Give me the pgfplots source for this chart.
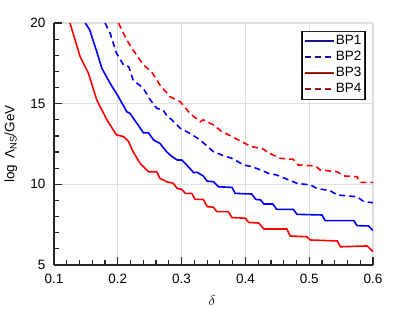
\documentclass[border=0pt]{standalone}
\usepackage{fontspec}
\setmainfont{Liberation Sans}
\usepackage{pgfplots}
\pgfplotsset{compat=1.18}
\begin{document}
\fontsize{13.5bp}{16bp}\selectfont
\begin{tikzpicture}
\useasboundingbox (-54bp,-44bp) rectangle (358bp,265bp);
\begin{axis}[
 scale only axis, width=319bp, height=242bp,
 xmin=0.1, xmax=0.6, ymin=5, ymax=20,
 xtick={0.1,0.2,0.3,0.4,0.5,0.6}, ytick={5,10,15,20},
 xticklabels={0.1,0.2,0.3,0.4,0.5,0.6}, yticklabels={5,10,15,20},
 minor x tick num=4, minor y tick num=4,
 axis x line*=bottom, axis y line*=left,
 axis line style={-, line width=1.5bp, black!85},
 tick align=inside,
 major tick length=8bp, minor tick length=5bp,
 every tick/.style={black!85, line width=1.2bp},
 grid=major, major grid style={gray!25, line width=1.2bp},
 tick label style={font=\fontsize{13.5bp}{16bp}\selectfont},
 xticklabel style={yshift=-4bp}, yticklabel style={xshift=-4bp},
 xlabel={$\delta$}, xlabel style={at={(axis description cs:0.495,-0.145)}, anchor=center},
 ylabel={log\hspace{0.45em}Λ\textsubscript{NS}/GeV},
 ylabel style={at={(axis description cs:-0.135,0.5)}, anchor=center, font=\fontsize{13.5bp}{16bp}\selectfont},
 legend style={at={(axis description cs:0.975,0.967)}, anchor=north east, fill=white, postaction={draw=black!85, line width=1.2bp}, inner sep=2bp, font=\fontsize{13.5bp}{16bp}\selectfont, nodes={inner sep=1.5bp, text height=10bp, text depth=3bp}, row sep=0bp},
 legend cell align=left,
 legend image code/.code={\draw[#1] (0bp,0bp) -- (29bp,0bp);},
]
\addplot[blue, line width=1.6bp] coordinates {
(0.149,20.0) (0.156,19.57) (0.167,18.22) (0.175,17.19) (0.188,16.26) (0.201,15.43)
(0.214,14.5) (0.219,14.4) (0.230,13.78) (0.240,13.2) (0.248,13.2) (0.256,12.75)
(0.266,12.54) (0.277,12.0) (0.284,11.75) (0.293,11.51) (0.300,11.51) (0.308,11.2)
(0.319,10.72) (0.324,10.75) (0.334,10.52) (0.340,10.2) (0.350,10.16) (0.358,9.85)
(0.379,9.81) (0.384,9.44) (0.410,9.40) (0.416,9.07) (0.424,9.03) (0.429,8.78)
(0.443,8.78) (0.449,8.45) (0.475,8.45) (0.481,8.14) (0.520,8.10) (0.525,7.75)
(0.570,7.75) (0.575,7.44) (0.593,7.42) (0.600,7.13)
};
\addlegendentry{BP1}
\addplot[blue, line width=1.6bp, dash pattern=on 6bp off 4bp] coordinates {
(0.180,20.0) (0.188,19.36) (0.198,18.12) (0.209,17.4) (0.217,17.3) (0.224,16.47)
(0.240,15.95) (0.251,15.23) (0.261,14.71) (0.271,14.61) (0.277,14.24) (0.285,13.99)
(0.298,13.47) (0.313,13.16) (0.329,12.75) (0.340,12.37) (0.350,12.02) (0.363,11.82)
(0.381,11.58) (0.397,11.2) (0.410,11.1) (0.424,10.89) (0.436,10.68) (0.449,10.58)
(0.468,10.27) (0.481,10.06) (0.502,9.96) (0.512,9.75) (0.533,9.6) (0.544,9.34)
(0.575,9.23) (0.586,8.92) (0.600,8.86)
};
\addlegendentry{BP2}
\addplot[red, line width=1.6bp] coordinates {
(0.125,20.0) (0.141,17.91) (0.154,16.88) (0.167,15.23) (0.183,13.99) (0.198,13.06)
(0.209,12.96) (0.217,12.64) (0.224,12.02) (0.235,11.3) (0.248,10.78) (0.261,10.78)
(0.266,10.37) (0.277,10.16) (0.287,10.06) (0.293,9.75) (0.300,9.69) (0.306,9.44)
(0.316,9.44) (0.321,9.07) (0.334,9.07) (0.340,8.62) (0.350,8.58) (0.355,8.31)
(0.373,8.31) (0.379,7.94) (0.400,7.90) (0.405,7.64) (0.421,7.60) (0.429,7.23)
(0.465,7.23) (0.470,6.80) (0.496,6.75) (0.502,6.55) (0.544,6.49) (0.549,6.13)
(0.591,6.18) (0.600,5.83)
};
\addlegendentry{BP3}
\addplot[red, line width=1.6bp, dash pattern=on 6bp off 4bp] coordinates {
(0.201,20.0) (0.214,18.95) (0.224,18.33) (0.240,17.4) (0.253,16.98) (0.266,16.16)
(0.282,15.43) (0.298,15.12) (0.313,14.4) (0.329,13.88) (0.334,14.0) (0.350,13.68)
(0.363,13.27) (0.379,12.96) (0.394,12.64) (0.410,12.33) (0.426,12.23) (0.439,11.9)
(0.455,11.61) (0.475,11.55) (0.483,11.2) (0.510,11.14) (0.517,10.89) (0.544,10.78)
(0.554,10.52) (0.575,10.47) (0.580,10.12) (0.600,10.12)
};
\addlegendentry{BP4}
\end{axis}
\end{tikzpicture}
\end{document}
